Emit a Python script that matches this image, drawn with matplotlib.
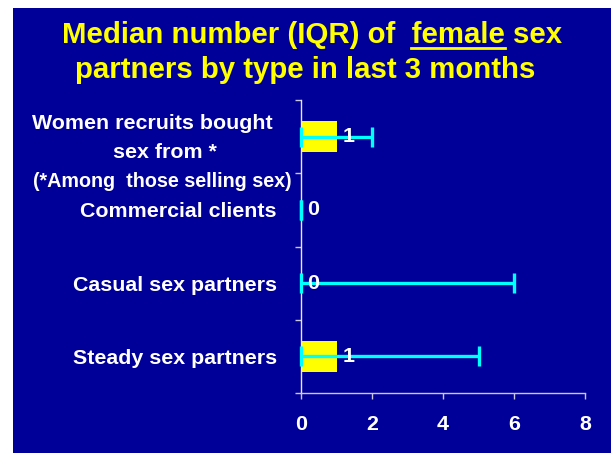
import matplotlib

matplotlib.use("Agg")
import matplotlib.pyplot as plt
from matplotlib.patches import Rectangle
from matplotlib.lines import Line2D

# data
categories = [
    "Women recruits bought sex from *",
    "Commercial clients",
    "Casual sex partners",
    "Steady sex partners",
]
medians = [1, 0, 0, 1]
iqr_low = [0, 0, 0, 0]
iqr_high = [2, 0, 6, 5]
x_ticks = [0, 2, 4, 6, 8]

BG = "#000099"
YELLOW = "#FFFF00"
CYAN = "#00FFFF"
WHITE = "#FFFFFF"
AXIS = "#C8C8E0"
LABEL_SIZE = 15.4

plt.rcParams.update({
    "font.family": ["Liberation Sans", "DejaVu Sans"],
    "font.weight": "bold",
})

W, H = 611, 453
fig = plt.figure(figsize=(W / 100, H / 100), dpi=100)
fig.patch.set_facecolor("white")
fig.add_artist(Rectangle((12.5 / W, 0), 1 - 12.5 / W, (H - 8) / H,
                         transform=fig.transFigure, facecolor=BG,
                         edgecolor="none", zorder=-5))

ax = fig.add_axes([301 / W, 60 / H, 284 / W, 293 / H])
ax.set_facecolor("none")
ax.set_zorder(1)

ypos = list(range(len(categories)))
ax.barh(ypos, medians, height=0.43, color=YELLOW, zorder=2)
xerr = [[m - lo for m, lo in zip(medians, iqr_low)],
        [hi - m for m, hi in zip(medians, iqr_high)]]
ax.errorbar(medians, ypos, xerr=xerr, fmt="none", ecolor=CYAN,
            elinewidth=2.4, capsize=7.5, capthick=2.4, zorder=3,
            clip_on=False)

for y, m in zip(ypos, medians):
    ax.annotate(str(m), xy=(m, y), xytext=(6, 0), textcoords="offset pixels",
                ha="left", va="center", color=WHITE, fontsize=LABEL_SIZE,
                fontweight="bold", zorder=4)

ax.set_xlim(0, 8)
ax.set_ylim(len(categories) - 0.5, -0.5)

for side in ("top", "right"):
    ax.spines[side].set_visible(False)
ax.spines["left"].set_color("#E8E8F0")
ax.spines["bottom"].set_color(AXIS)
ax.spines["left"].set_linewidth(1.0)
ax.spines["bottom"].set_linewidth(1.0)
ax.spines["left"].set_zorder(2.5)

ax.set_xticks(x_ticks)
ax.set_xticklabels([str(t) for t in x_ticks])
ax.tick_params(axis="x", length=4, width=1, color=AXIS, pad=11.5,
               labelsize=LABEL_SIZE, labelcolor=WHITE)

bounds = [i - 0.5 for i in range(len(categories) + 1)]
ax.set_yticks(bounds)
ax.set_yticklabels([""] * len(bounds))
ax.tick_params(axis="y", which="major", length=4.5, width=1, color=AXIS)
ax.set_yticks(ypos, minor=True)
ax.set_yticklabels([""] + categories[1:], minor=True)
ax.tick_params(axis="y", which="minor", length=0, pad=17.5,
               labelsize=LABEL_SIZE, labelcolor=WHITE)

# first category label, wrapped by hand, plus footnote line
first_lines = [("Women recruits bought", -149, 7.6, LABEL_SIZE),
               ("sex from *", -136, -21.1, LABEL_SIZE),
               ("(*Among  those selling sex)", -138.5, -50.1, 14.2)]
for txt, dx, dy, size in first_lines:
    ax.annotate(txt, xy=(0, 0), xytext=(dx, dy), textcoords="offset pixels",
                ha="center", va="baseline", color=WHITE, fontsize=size,
                fontweight="bold", annotation_clip=False)

# title
TITLE_SIZE = 21.2
t1 = fig.text(311.7 / W, 1 - 43.3 / H, "Median number (IQR) of  female sex",
              ha="center", va="baseline", color=YELLOW, fontsize=TITLE_SIZE,
              fontweight="bold")
fig.text(305 / W, 1 - 78.3 / H, "partners by type in last 3 months",
         ha="center", va="baseline", color=YELLOW, fontsize=TITLE_SIZE,
         fontweight="bold")

# underline beneath "female"
renderer = fig.canvas.get_renderer()
bb = t1.get_window_extent(renderer)


def text_width(s):
    tmp = fig.text(0, 0, s, fontsize=TITLE_SIZE, fontweight="bold")
    w = tmp.get_window_extent(renderer).width
    tmp.remove()
    return w


x_end = bb.x0 + text_width("Median number (IQR) of  female")
x_start = x_end - text_width("female")
uy = 1 - 48 / H
fig.add_artist(Line2D([x_start / W, x_end / W], [uy, uy], color=YELLOW,
                      linewidth=2.0, transform=fig.transFigure))

fig.savefig("out.png", dpi=100)
